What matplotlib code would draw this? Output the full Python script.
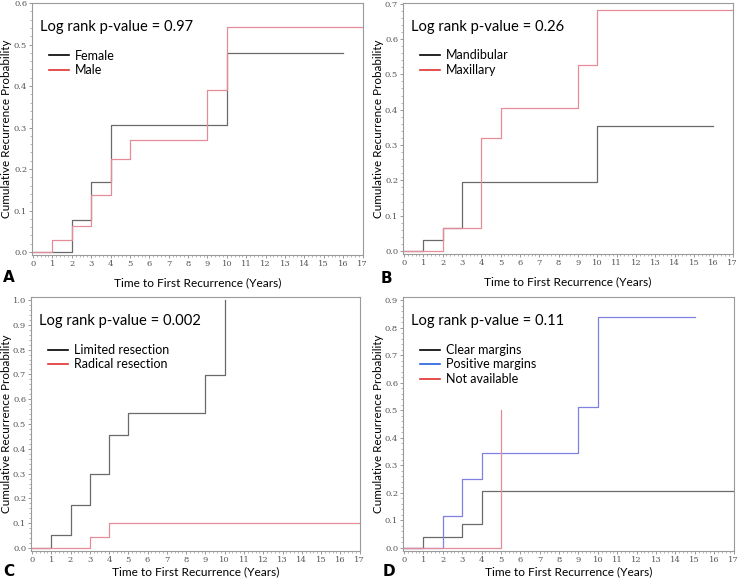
"""Cumulative recurrence curves, four panels (A-D)."""

import matplotlib
matplotlib.use("Agg")
import matplotlib.pyplot as plt
from matplotlib.lines import Line2D
from matplotlib.ticker import MultipleLocator, FormatStrFormatter

# ---- data (step times in years, cumulative recurrence probability) ----
female_t = [0, 2, 3, 4, 10, 16]
female_p = [0.0, 0.077, 0.168, 0.307, 0.479, 0.479]
male_t = [0, 1, 2, 3, 4, 5, 9, 10, 17]
male_p = [0.0, 0.030, 0.062, 0.137, 0.223, 0.270, 0.391, 0.542, 0.542]

mand_t = [0, 1, 2, 3, 10, 16]
mand_p = [0.0, 0.031, 0.066, 0.196, 0.354, 0.354]
maxi_t = [0, 2, 4, 5, 9, 10, 17]
maxi_p = [0.0, 0.066, 0.321, 0.404, 0.526, 0.683, 0.683]

limited_t = [0, 1, 2, 3, 4, 5, 9, 10, 10]
limited_p = [0.0, 0.052, 0.172, 0.297, 0.454, 0.544, 0.696, 1.0, 1.0]
radical_t = [0, 3, 4, 17]
radical_p = [0.0, 0.044, 0.101, 0.101]

clear_t = [0, 1, 3, 4, 17]
clear_p = [0.0, 0.040, 0.088, 0.205, 0.205]
positive_t = [0, 2, 3, 4, 9, 10, 15]
positive_p = [0.0, 0.117, 0.252, 0.346, 0.510, 0.837, 0.837]
na_t = [0, 5, 5]
na_p = [0.0, 0.5, 0.5]

pvals = ["0.97", "0.26", "0.002", "0.11"]
letters = ["A", "B", "C", "D"]

GREY = "#6a6a6a"
PINK = "#e58c98"
BLUE = "#8080e0"

plt.rcParams.update({"font.family": ["Lato", "DejaVu Sans"]})

fig = plt.figure(figsize=(7.38, 5.79), dpi=100)
W, H = 738, 579


def px_axes(l, t, r, b):
    return fig.add_axes([l / W, 1 - b / H, (r - l) / W, (b - t) / H])


axes = [
    px_axes(32, 3, 363, 255),
    px_axes(403, 3, 733, 254),
    px_axes(31, 297, 360, 551),
    px_axes(403, 297, 734, 551),
]
ylims = [(-0.0072, 0.6), (-0.0085, 0.702), (-0.012, 1.012), (-0.011, 0.911)]
xlab_y = [-0.111, -0.111, -0.083, -0.083]
letter_xy = [(3, 277), (381, 279), (3, 571), (383, 571)]

panels = [
    [(female_t, female_p, GREY, "black", "Female"),
     (male_t, male_p, PINK, "#e03030", "Male")],
    [(mand_t, mand_p, GREY, "black", "Mandibular"),
     (maxi_t, maxi_p, PINK, "#e03030", "Maxillary")],
    [(limited_t, limited_p, GREY, "black", "Limited resection"),
     (radical_t, radical_p, PINK, "#e03030", "Radical resection")],
    [(clear_t, clear_p, GREY, "black", "Clear margins"),
     (positive_t, positive_p, BLUE, "#2060e0", "Positive margins"),
     (na_t, na_p, PINK, "#e03030", "Not available")],
]

for i, ax in enumerate(axes):
    handles = []
    for t, p, col, lcol, name in panels[i]:
        ax.plot(t, p, drawstyle="steps-post", color=col, lw=0.9)
        handles.append(Line2D([], [], color=lcol, lw=1.2, label=name))
    ax.set_xlim(-0.05, 17.02)
    ax.set_ylim(*ylims[i])
    ax.xaxis.set_major_locator(MultipleLocator(1))
    ax.xaxis.set_minor_locator(MultipleLocator(0.2))
    ax.yaxis.set_major_locator(MultipleLocator(0.1))
    ax.yaxis.set_minor_locator(MultipleLocator(0.02))
    ax.yaxis.set_major_formatter(FormatStrFormatter("%.1f"))
    for s in ax.spines.values():
        s.set_color("#9a9a9a")
        s.set_linewidth(0.8)
    ax.tick_params(which="major", length=2.5, width=0.6, color="#888888",
                   labelsize=6, labelcolor="#555555", pad=1)
    ax.tick_params(which="minor", length=1.5, width=0.5, color="#999999")
    for lab in ax.get_xticklabels() + ax.get_yticklabels():
        lab.set_family("DejaVu Serif")

    ax.set_xlabel("Time to First Recurrence (Years)", fontsize=8.6, va="center")
    ax.xaxis.set_label_coords(0.5, xlab_y[i])
    ax.set_ylabel("Cumulative Recurrence Probability", fontsize=8.4, va="center")
    ax.yaxis.set_label_coords(-25 / 331, 0.5)

    ax.text(0.025, 0.905, f"Log rank p-value = {pvals[i]}", transform=ax.transAxes,
            fontsize=10.6, va="center", ha="left")
    ax.legend(handles=handles, loc="upper left", bbox_to_anchor=(0.052, 0.815),
              frameon=False, fontsize=9, handlelength=1.6, handletextpad=0.45,
              labelspacing=0.2, borderpad=0, borderaxespad=0)

    lx, ly = letter_xy[i]
    fig.text(lx / W, 1 - ly / H, letters[i], fontsize=11, fontweight="bold",
             family="DejaVu Sans", ha="left", va="center")

fig.savefig("out.png", dpi=100)
